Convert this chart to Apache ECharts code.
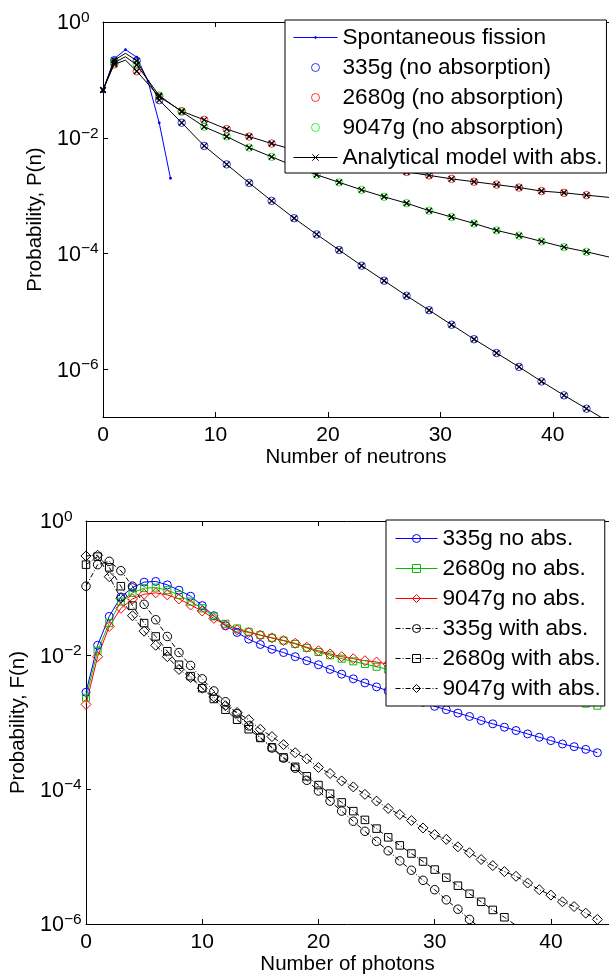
<!DOCTYPE html>
<html>
<head>
<meta charset="utf-8">
<script src="https://cdn.jsdelivr.net/npm/echarts@6/dist/echarts.min.js"></script>
<style>
html,body{margin:0;padding:0;background:#fff;}
#chart{width:609px;height:980px;}
</style>
</head>
<body>
<div id="chart"></div>
<script>
// ---------------- Top chart: neutrons ----------------
const nSF = [0, 1, 2, 3, 4, 5, 6];
const pSF = [0.063, 0.232, 0.333, 0.247, 0.095, 0.0181, 0.0020];

const nOdd = [1, 3, 5, 7, 9, 11, 13, 15, 17, 19, 21, 23, 25, 27, 29, 31, 33, 35, 37, 39, 41, 43];
const sim335 = [0.219, 0.214, 0.0447, 0.0182, 7.24e-3, 3.47e-3, 1.66e-3, 8.13e-4, 4.07e-4, 2.14e-4, 1.15e-4,
  6.17e-5, 3.39e-5, 1.86e-5, 1.05e-5, 5.89e-6, 3.31e-6, 1.91e-6, 1.10e-6, 6.17e-7, 3.55e-7, 2.09e-7];
const sim2680 = [0.186, 0.141, 0.0513, 0.0288, 0.0204, 0.0141, 0.0105, 7.94e-3, 6.17e-3, 5.01e-3, 4.17e-3,
  3.55e-3, 3.02e-3, 2.57e-3, 2.24e-3, 1.95e-3, 1.74e-3, 1.55e-3, 1.38e-3, 1.20e-3, 1.12e-3, 1.02e-3];
const sim9047 = [0.200, 0.182, 0.0537, 0.0282, 0.0155, 0.0105, 6.76e-3, 4.68e-3, 3.24e-3, 2.29e-3, 1.70e-3,
  1.26e-3, 9.55e-4, 7.41e-4, 5.50e-4, 4.27e-4, 3.31e-4, 2.51e-4, 2.04e-4, 1.62e-4, 1.29e-4, 1.07e-4];

const nModel = [0, 1, 2, 3, 5, 7, 9, 11, 13, 15, 17, 19, 21, 23, 25, 27, 29, 31, 33, 35, 37, 39, 41, 43, 45];
const nModelNoMarker = [2, 45];
const model335 = [0.067, 0.219, 0.288, 0.214, 0.0447, 0.0182, 7.24e-3, 3.47e-3, 1.66e-3, 8.13e-4, 4.07e-4, 2.14e-4,
  1.15e-4, 6.17e-5, 3.39e-5, 1.86e-5, 1.05e-5, 5.89e-6, 3.31e-6, 1.91e-6, 1.10e-6, 6.17e-7, 3.55e-7, 2.09e-7, 1.23e-7];
const model2680 = [0.067, 0.186, 0.219, 0.141, 0.0513, 0.0288, 0.0204, 0.0141, 0.0105, 7.94e-3, 6.17e-3, 5.01e-3,
  4.17e-3, 3.55e-3, 3.02e-3, 2.57e-3, 2.24e-3, 1.95e-3, 1.74e-3, 1.55e-3, 1.38e-3, 1.20e-3, 1.12e-3, 1.02e-3, 9.33e-4];
const model9047 = [0.067, 0.200, 0.251, 0.182, 0.0537, 0.0282, 0.0155, 0.0105, 6.76e-3, 4.68e-3, 3.24e-3, 2.29e-3,
  1.70e-3, 1.26e-3, 9.55e-4, 7.41e-4, 5.50e-4, 4.27e-4, 3.31e-4, 2.51e-4, 2.04e-4, 1.62e-4, 1.29e-4, 1.07e-4, 8.71e-5];

const topLegend = ['Spontaneous fission', '335g (no absorption)', '2680g (no absorption)', '9047g (no absorption)', 'Analytical model with abs.'];

// ---------------- Bottom chart: photons ----------------
const nPh = [0,1,2,3,4,5,6,7,8,9,10,11,12,13,14,15,16,17,18,19,20,21,22,23,24,25,26,27,28,29,30,31,32,33,34,35,36,37,38,39,40,41,42,43,44];
const noAbs335 = [2.82e-3, 1.41e-2, 3.80e-2, 7.41e-2, 0.102, 0.123, 0.126, 0.112, 9.33e-2, 7.59e-2, 5.50e-2,
  3.89e-2, 2.75e-2, 2.19e-2, 1.74e-2, 1.45e-2, 1.23e-2, 1.10e-2, 9.55e-3, 8.32e-3, 7.24e-3, 6.17e-3, 5.25e-3,
  4.47e-3, 3.89e-3, 3.39e-3, 2.95e-3, 2.57e-3, 2.24e-3, 2.00e-3, 1.74e-3, 1.55e-3, 1.38e-3, 1.23e-3, 1.07e-3,
  9.55e-4, 8.51e-4, 7.59e-4, 6.76e-4, 6.03e-4, 5.37e-4, 4.79e-4, 4.37e-4, 3.98e-4, 3.55e-4];
const noAbs2680 = [2.34e-3, 1.17e-2, 3.02e-2, 6.31e-2, 8.51e-2, 0.100, 0.102, 9.33e-2, 7.94e-2, 6.31e-2, 5.01e-2,
  3.80e-2, 2.95e-2, 2.51e-2, 2.24e-2, 2.00e-2, 1.82e-2, 1.66e-2, 1.48e-2, 1.29e-2, 1.12e-2, 1.00e-2, 8.91e-3,
  8.13e-3, 7.41e-3, 6.76e-3, 6.17e-3, 5.75e-3, 5.37e-3, 5.01e-3, 4.68e-3, 4.37e-3, 4.07e-3, 3.80e-3, 3.55e-3,
  3.31e-3, 3.09e-3, 2.88e-3, 2.69e-3, 2.51e-3, 2.34e-3, 2.19e-3, 2.04e-3, 1.91e-3, 1.78e-3];
const noAbs9047 = [1.86e-3, 9.55e-3, 2.69e-2, 5.01e-2, 6.92e-2, 8.13e-2, 8.51e-2, 7.94e-2, 6.92e-2, 5.62e-2, 4.57e-2,
  3.55e-2, 2.82e-2, 2.40e-2, 2.19e-2, 2.00e-2, 1.82e-2, 1.66e-2, 1.51e-2, 1.32e-2, 1.17e-2, 1.05e-2, 9.55e-3,
  8.91e-3, 8.32e-3, 7.94e-3, 7.41e-3, 6.92e-3, 6.61e-3, 6.17e-3, 5.89e-3, 5.62e-3, 5.25e-3, 5.01e-3, 4.79e-3,
  4.57e-3, 4.37e-3, 4.17e-3, 3.98e-3, 3.80e-3, 3.72e-3, 3.55e-3, 3.39e-3, 3.24e-3, 3.09e-3];
const withAbs335 = [0.107, 0.224, 0.251, 0.182, 0.107, 5.75e-2, 3.39e-2, 1.91e-2, 1.10e-2, 7.08e-3, 4.47e-3,
  2.95e-3, 2.04e-3, 1.35e-3, 8.91e-4, 6.03e-4, 4.17e-4, 2.95e-4, 2.09e-4, 1.38e-4, 9.55e-5, 6.76e-5, 4.79e-5,
  3.39e-5, 2.40e-5, 1.70e-5, 1.23e-5, 8.71e-6, 6.31e-6, 4.47e-6, 3.24e-6, 2.29e-6, 1.66e-6, 1.17e-6, 8.51e-7];
const withAbs2680 = [0.224, 0.295, 0.204, 0.107, 5.50e-2, 3.02e-2, 1.91e-2, 1.15e-2, 7.24e-3, 4.90e-3, 3.24e-3,
  2.24e-3, 1.55e-3, 1.10e-3, 7.94e-4, 5.89e-4, 4.27e-4, 3.02e-4, 2.19e-4, 1.58e-4, 1.17e-4, 8.71e-5, 6.46e-5,
  4.79e-5, 3.55e-5, 2.63e-5, 1.95e-5, 1.48e-5, 1.12e-5, 8.51e-6, 6.46e-6, 4.90e-6, 3.72e-6, 2.82e-6, 2.14e-6,
  1.62e-6, 1.26e-6, 9.55e-7];
const withAbs9047 = [0.302, 0.309, 0.148, 7.08e-2, 3.89e-2, 2.29e-2, 1.41e-2, 9.55e-3, 6.17e-3, 4.68e-3, 3.24e-3,
  2.40e-3, 1.78e-3, 1.41e-3, 1.10e-3, 7.94e-4, 6.17e-4, 4.68e-4, 3.55e-4, 2.88e-4, 2.14e-4, 1.74e-4, 1.35e-4,
  1.10e-4, 8.51e-5, 6.76e-5, 5.25e-5, 4.27e-5, 3.47e-5, 2.69e-5, 2.14e-5, 1.82e-5, 1.41e-5, 1.15e-5, 9.12e-6,
  7.41e-6, 6.03e-6, 5.13e-6, 4.07e-6, 3.24e-6, 2.69e-6, 2.14e-6, 1.82e-6, 1.45e-6, 1.17e-6];

const bottomLegend = ['335g no abs.', '2680g no abs.', '9047g no abs.', '335g with abs.', '2680g with abs.', '9047g with abs.'];

// ---------------- Styling helpers ----------------
const FONT = 'Liberation Sans, Arial, Helvetica, sans-serif';
const BLUE = '#0000ff', RED = '#ff0000', GREEN = '#00ee00', GREEN2 = '#00c000';
const X_PATH = 'path://M0,0L10,10M10,0L0,10';
const DOT_PATH = 'path://M0,0M10,0M0,10M10,10M3.6,5A1.4,1.4,0,1,1,6.4,5A1.4,1.4,0,1,1,3.6,5Z';

function pair(xs, ys) { return ys.map((y, i) => [xs[i], y]); }

function powLabel(v) {
  const e = Math.log10(v);
  const r = Math.round(e);
  if (Math.abs(e - r) > 1e-6) return '';
  return '{b|10}{s|' + (r === 0 ? '0' : '\u2212' + (-r)) + '}';
}

const richPow = {
  b: { fontSize: 21.5, color: '#000', fontFamily: FONT, lineHeight: 25, verticalAlign: 'bottom' },
  s: { fontSize: 15.5, color: '#000', fontFamily: FONT, lineHeight: 15, verticalAlign: 'top' }
};

function xAxisBottom(grid, name) {
  return {
    type: 'value', gridIndex: grid, min: 0, max: 45, interval: 10, position: 'bottom',
    axisLine: { show: true, onZero: false, lineStyle: { color: '#000', width: 1 } },
    axisTick: { show: true, inside: true, length: 5, lineStyle: { color: '#000' } },
    axisLabel: { show: true, color: '#000', fontSize: 21, fontFamily: FONT, margin: 8, showMaxLabel: false },
    splitLine: { show: false },
    name: name, nameLocation: 'middle', nameGap: 30,
    nameTextStyle: { color: '#000', fontSize: 20.5, fontFamily: FONT }
  };
}
function xAxisTop(grid) {
  return {
    type: 'value', gridIndex: grid, min: 0, max: 45, interval: 10, position: 'top',
    axisLine: { show: true, onZero: false, lineStyle: { color: '#000', width: 1 } },
    axisTick: { show: true, inside: true, length: 5, lineStyle: { color: '#000' } },
    axisLabel: { show: false }, splitLine: { show: false }
  };
}
function yAxisLeft(grid, min, name) {
  return {
    type: 'log', logBase: 100, gridIndex: grid, min: min, max: 1, position: 'left',
    axisLine: { show: true, onZero: false, lineStyle: { color: '#000', width: 1 } },
    axisTick: { show: true, inside: true, length: 5, lineStyle: { color: '#000' } },
    axisLabel: { show: true, align: 'left', margin: 46, formatter: powLabel, rich: richPow, showMinLabel: true },
    splitLine: { show: false }, minorTick: { show: false },
    name: name, nameLocation: 'middle', nameGap: 51,
    nameTextStyle: { color: '#000', fontSize: 20.5, fontFamily: FONT }
  };
}

function legendBox(left, top, data, itemWidth, itemHeight, gap, padding) {
  return {
    show: true, orient: 'vertical', left: left, top: top, data: data,
    itemWidth: itemWidth, itemHeight: itemHeight, itemGap: gap, padding: padding,
    backgroundColor: '#fff', borderColor: '#000', borderWidth: 1, borderRadius: 0,
    selectedMode: false, z: 20,
    textStyle: { color: '#000', fontSize: 22.6, lineHeight: 23, fontFamily: FONT, padding: [0, 0, 0, 0] },
    itemStyle: { borderWidth: 1 },
    lineStyle: { width: 1 }
  };
}

const series = [];
// top chart
series.push({
  name: topLegend[0], type: 'line', xAxisIndex: 0, yAxisIndex: 0,
  data: pair(nSF, pSF), symbol: DOT_PATH, symbolSize: 10,
  itemStyle: { color: BLUE, borderColor: BLUE, borderWidth: 0 }, lineStyle: { color: BLUE, width: 1 }, z: 2
});
[[sim335, BLUE, topLegend[1]], [sim2680, RED, topLegend[2]], [sim9047, GREEN, topLegend[3]]].forEach(([arr, col, nm]) => {
  series.push({
    name: nm, type: 'scatter', xAxisIndex: 0, yAxisIndex: 0,
    data: pair(nOdd, arr), symbol: 'circle', symbolSize: 7.5,
    itemStyle: { color: 'transparent', borderColor: col, borderWidth: 1 }, z: 3
  });
});
[model335, model2680, model9047].forEach(arr => {
  series.push({
    name: topLegend[4], type: 'line', xAxisIndex: 0, yAxisIndex: 0,
    data: arr.map((v, i) => nModelNoMarker.includes(nModel[i]) ? { value: [nModel[i], v], symbol: 'none' } : [nModel[i], v]),
    symbol: X_PATH, symbolSize: 5.5,
    itemStyle: { color: 'transparent', borderColor: '#000', borderWidth: 1.3 },
    lineStyle: { color: '#000', width: 1 }, z: 4
  });
});
// bottom chart
const bottomDefs = [
  [noAbs335, BLUE, 'circle', 8, 'solid', bottomLegend[0]],
  [noAbs2680, GREEN2, 'rect', 7, 'solid', bottomLegend[1]],
  [noAbs9047, RED, 'diamond', 10, 'solid', bottomLegend[2]],
  [withAbs335, '#000', 'circle', 8.5, [5, 2, 1, 2], bottomLegend[3]],
  [withAbs2680, '#000', 'rect', 7.5, [5, 2, 1, 2], bottomLegend[4]],
  [withAbs9047, '#000', 'diamond', 10, [5, 2, 1, 2], bottomLegend[5]]
];
bottomDefs.forEach(([arr, col, sym, size, ltype, nm]) => {
  series.push({
    name: nm, type: 'line', xAxisIndex: 2, yAxisIndex: 1,
    data: pair(nPh, arr), symbol: sym, symbolSize: size,
    itemStyle: { color: 'transparent', borderColor: col, borderWidth: 1 },
    lineStyle: { color: col, width: 1, type: ltype }, z: 3
  });
});

const option = {
  animation: false,
  backgroundColor: '#fff',
  textStyle: { fontFamily: FONT },
  grid: [
    { left: 103, top: 22, right: -4, bottom: 563, containLabel: false },
    { left: 86, top: 521, right: -4, bottom: 56, containLabel: false }
  ],
  xAxis: [xAxisBottom(0, 'Number of neutrons'), xAxisTop(0), xAxisBottom(1, 'Number of photons'), xAxisTop(1)],
  yAxis: [yAxisLeft(0, 1.5e-7, 'Probability, P(n)'), yAxisLeft(1, 1e-6, 'Probability, F(n)')],
  legend: [
    legendBox(285, 20, topLegend, 44, 8, 7, [6, 4, 4, 8]),
    legendBox(386, 520, bottomLegend, 42, 10, 7, [7, 4, 6, 9])
  ],
  series: series
};

const chart = echarts.init(document.getElementById('chart'), null, { renderer: 'canvas' });
chart.setOption(option);
</script>
</body>
</html>
